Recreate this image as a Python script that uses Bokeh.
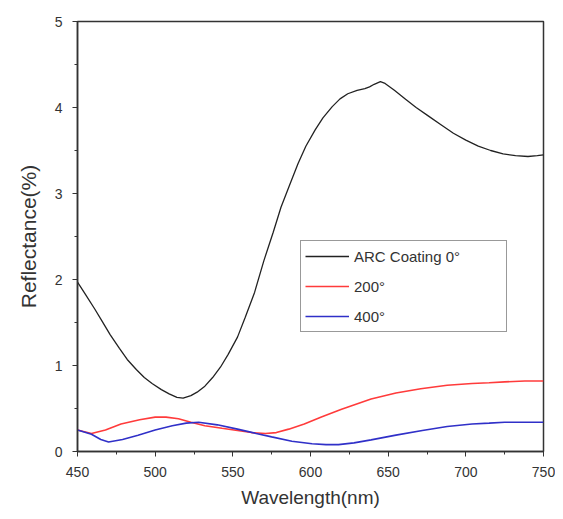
from bokeh.plotting import figure
from bokeh.models import Legend, LegendItem, Range1d, FixedTicker
from bokeh.embed import file_html
from bokeh.resources import INLINE

wl_arc = [450, 455, 461, 466, 471, 477, 482, 488, 493, 498, 504, 509, 514, 518, 523, 527, 532, 537, 542, 547, 553, 558, 564, 570, 576, 581, 587, 592, 597, 603, 608, 614, 619, 624, 630, 635, 638, 641, 645, 648, 654, 661, 668, 676, 684, 692, 700, 708, 716, 724, 732, 740, 746, 750]
r_arc = [1.97, 1.83, 1.66, 1.51, 1.36, 1.20, 1.07, 0.95, 0.86, 0.79, 0.72, 0.67, 0.63, 0.62, 0.65, 0.69, 0.76, 0.86, 0.98, 1.13, 1.33, 1.56, 1.85, 2.22, 2.55, 2.84, 3.12, 3.35, 3.55, 3.74, 3.88, 4.01, 4.10, 4.16, 4.20, 4.22, 4.24, 4.27, 4.30, 4.28, 4.20, 4.10, 4.00, 3.90, 3.80, 3.70, 3.62, 3.55, 3.50, 3.46, 3.44, 3.43, 3.44, 3.45]

wl_200 = [450, 459, 468, 478, 490, 500, 507, 515, 523, 532, 543, 553, 562, 571, 578, 586, 596, 607, 620, 639, 655, 671, 688, 704, 715, 725, 738, 750]
r_200 = [0.25, 0.21, 0.25, 0.32, 0.37, 0.40, 0.40, 0.38, 0.34, 0.30, 0.27, 0.245, 0.22, 0.21, 0.22, 0.26, 0.32, 0.40, 0.49, 0.61, 0.68, 0.73, 0.77, 0.79, 0.80, 0.81, 0.82, 0.82]

wl_400 = [450, 459, 465, 470, 479, 489, 500, 511, 520, 528, 540, 553, 565, 575, 588, 601, 610, 618, 628, 639, 655, 672, 688, 704, 715, 725, 738, 750]
r_400 = [0.25, 0.20, 0.14, 0.11, 0.14, 0.19, 0.25, 0.30, 0.33, 0.34, 0.31, 0.26, 0.21, 0.17, 0.12, 0.09, 0.08, 0.08, 0.10, 0.135, 0.19, 0.245, 0.29, 0.32, 0.33, 0.34, 0.34, 0.34]

labels = ["ARC Coating 0°", "200°", "400°"]
colors = ["#222222", "#ff3b3b", "#3030c8"]

x_ticks = [450, 500, 550, 600, 650, 700, 750]
y_ticks = [0, 1, 2, 3, 4, 5]

p = figure(width=555, height=511, output_backend="svg", toolbar_location=None,
           x_range=Range1d(450, 750), y_range=Range1d(0, 5),
           min_border_left=77, min_border_right=12, min_border_top=21, min_border_bottom=60)

r1 = p.line(wl_arc, r_arc, line_color=colors[0], line_width=1.3)
r2 = p.line(wl_200, r_200, line_color=colors[1], line_width=1.6)
r3 = p.line(wl_400, r_400, line_color=colors[2], line_width=1.6)

p.grid.visible = False
p.outline_line_color = "#333333"
p.outline_line_width = 1.5

p.xaxis.ticker = FixedTicker(ticks=x_ticks, minor_ticks=[475, 525, 575, 625, 675, 725])
p.yaxis.ticker = FixedTicker(ticks=y_ticks, minor_ticks=[0.5, 1.5, 2.5, 3.5, 4.5])
for ax in (p.xaxis, p.yaxis):
    ax.axis_line_color = "#333333"
    ax.axis_line_width = 1.5
    ax.major_tick_line_color = "#333333"
    ax.minor_tick_line_color = "#333333"
    ax.major_tick_out = 5
    ax.major_tick_in = 0
    ax.minor_tick_out = 3
    ax.minor_tick_in = 0
    ax.major_label_text_font = "Liberation Sans"
    ax.major_label_text_font_size = "14px"
    ax.major_label_text_color = "#333333"
    ax.axis_label_text_font = "Liberation Sans"
    ax.axis_label_text_font_style = "normal"
    ax.axis_label_text_color = "#333333"

p.xaxis.axis_label = "Wavelength(nm)"
p.yaxis.axis_label = "Reflectance(%)"
p.xaxis.axis_label_text_font_size = "19px"
p.yaxis.axis_label_text_font_size = "21px"
p.xaxis.major_label_standoff = 10
p.yaxis.major_label_standoff = 10
p.xaxis.axis_label_standoff = 7
p.yaxis.axis_label_standoff = 12

legend = Legend(items=[LegendItem(label=labels[0], renderers=[r1]),
                       LegendItem(label=labels[1], renderers=[r2]),
                       LegendItem(label=labels[2], renderers=[r3])],
                location=(223, 119))
legend.border_line_color = "#333333"
legend.border_line_width = 1
legend.background_fill_alpha = 1
legend.padding = 4
legend.margin = 0
legend.spacing = 8
legend.glyph_width = 44
legend.glyph_height = 22
legend.label_standoff = 5
legend.label_width = 148
legend.label_text_font = "Liberation Sans"
legend.label_text_font_size = "15px"
legend.label_text_color = "#333333"
p.add_layout(legend, "center")

open("out.html", "w").write(file_html(p, INLINE))
